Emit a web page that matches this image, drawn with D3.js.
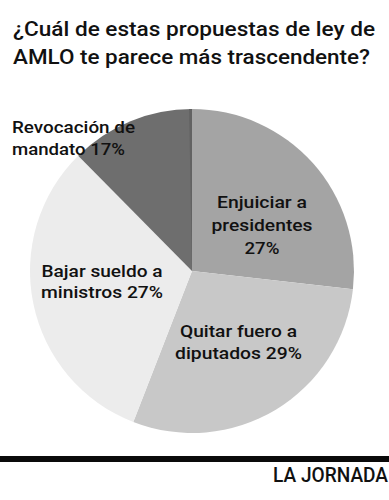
<!DOCTYPE html>
<html>
<head>
<meta charset="utf-8">
<script src="https://cdn.jsdelivr.net/npm/d3@7"></script>
<style>
  html, body { margin: 0; padding: 0; background: #fff; }
  svg { display: block; font-family: Roboto, "Noto Sans", sans-serif; }
</style>
</head>
<body>
<svg id="vis-svg" width="389" height="500"></svg>
<script>
// data
const categories = ['Enjuiciar a presidentes', 'Quitar fuero a diputados', 'Bajar sueldo a ministros', 'Revocación de mandato'];
const percents = [27, 29, 27, 17];          // printed in the labels
const shares = [26.8, 29.1, 31.7, 12.4];     // slice sizes as drawn in the reference
const labelLines = [
  ['Enjuiciar a', 'presidentes', '27%'],
  ['Quitar fuero a', 'diputados 29%'],
  ['Bajar sueldo a', 'ministros 27%'],
  ['Revocación de', 'mandato 17%']
];
const titleLines = ['¿Cuál de estas propuestas de ley de', 'AMLO te parece más trascendente?'];
const source = 'LA JORNADA';

const fills = ['#a4a4a4', '#c8c8c8', '#ececec', '#6e6e6e'];

const svg = d3.select('#vis-svg');

// stretch a text to the width it has in the reference
function fit(sel, w) {
  sel.attr('textLength', w).attr('lengthAdjust', 'spacingAndGlyphs');
}

// title
const titleX = 13;
const titleY = [36, 64];
const titleW = [362, 357];
titleLines.forEach((t, i) => {
  svg.append('text')
    .attr('x', titleX)
    .attr('y', titleY[i])
    .style('font-size', '20.5px')
    .style('font-weight', 500)
    .style('fill', '#111')
    .text(t)
    .call(fit, titleW[i]);
});

// pie
const cx = 192, cy = 271, radius = 162;
const pie = d3.pie().sort(null).value(d => d);
const arc = d3.arc().innerRadius(0).outerRadius(radius);
const arcs = pie(shares);

const pieG = svg.append('g').attr('transform', `translate(${cx}, ${cy})`);

pieG.selectAll('.arc')
  .data(arcs)
  .enter().append('path')
  .attr('class', 'arc')
  .attr('d', arc)
  .attr('fill', (d, i) => fills[i]);

// thin darker strip along the closing edge of the last slice
const last = arcs[arcs.length - 1];
pieG.append('path')
  .attr('d', d3.arc().innerRadius(0).outerRadius(radius)
    .startAngle(last.endAngle - 0.018).endAngle(last.endAngle)())
  .attr('fill', '#626262');

// labels (anchor point, alignment, line widths)
const labelPos = [
  { x: 262, y: 208, anchor: 'middle', lh: 23, w: [90, 101, 35] },
  { x: 238.5, y: 337, anchor: 'middle', lh: 22, w: [117, 127] },
  { x: 102, y: 277, anchor: 'middle', lh: 21, w: [121, 122] },
  { x: 12, y: 133, anchor: 'start', lh: 22, w: [123, 113] }
];

labelLines.forEach((lines, i) => {
  const p = labelPos[i];
  lines.forEach((t, j) => {
    svg.append('text')
      .attr('x', p.x)
      .attr('y', p.y + j * p.lh)
      .attr('text-anchor', p.anchor)
      .style('font-size', '17px')
      .style('font-weight', 500)
      .style('fill', '#111')
      .text(t)
      .call(fit, p.w[j]);
  });
});

// bottom rule and source
svg.append('rect')
  .attr('x', 0).attr('y', 456)
  .attr('width', 389).attr('height', 6)
  .attr('fill', '#0a0a0a');

svg.append('text')
  .attr('x', 388)
  .attr('y', 482)
  .attr('text-anchor', 'end')
  .style('font-size', '19.5px')
  .style('font-weight', 500)
  .style('fill', '#111')
  .text(source)
  .call(fit, 115);
</script>
</body>
</html>
